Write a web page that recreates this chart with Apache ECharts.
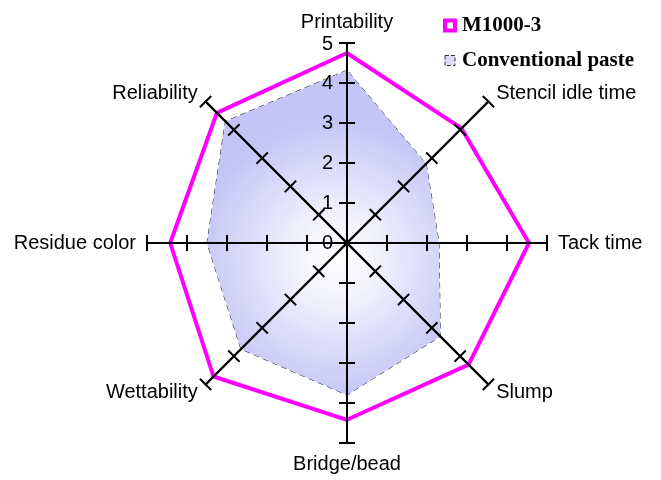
<!DOCTYPE html>
<html>
<head>
<meta charset="utf-8">
<script src="https://cdn.jsdelivr.net/npm/echarts@6/dist/echarts.min.js"></script>
<style>html,body{margin:0;padding:0;background:#fff}#c{width:661px;height:480px}</style>
</head>
<body>
<div id="c"></div>
<script>
// Indicators listed counter-clockwise from the top (ECharts radar order)
var indicators = ['Printability', 'Reliability', 'Residue color', 'Wettability', 'Bridge/bead', 'Slump', 'Tack time', 'Stencil idle time'];
var m1000 = [4.75, 4.6, 4.42, 4.72, 4.42, 4.3, 4.55, 4.05];
var conventional = [4.32, 4.3, 3.5, 3.75, 3.8, 3.3, 2.3, 2.8];
var tickLabels = ['0', '1', '2', '3', '4', '5'];
var maxVal = 5;

var chart = echarts.init(document.getElementById('c'));
var ind = indicators.map(function (n) { return { name: n, max: maxVal, min: 0 }; });
var ind2 = indicators.map(function (n) { return { name: '', max: maxVal, min: 0 }; });

function radarBase(tickLen, showName, inds) {
  return {
    indicator: inds,
    center: [347, 243],
    radius: 200,
    startAngle: 90,
    splitNumber: 5,
    shape: 'polygon',
    z: 5,
    axisName: { show: showName, color: '#000', fontSize: 20, fontFamily: 'Liberation Sans, Arial, sans-serif' },
    nameGap: 11,
    axisLine: { show: true, lineStyle: { color: '#000', width: 2 } },
    axisTick: { show: true, length: tickLen, lineStyle: { color: '#000', width: 2 } },
    axisLabel: { show: false },
    splitLine: { show: false },
    splitArea: { show: false }
  };
}

chart.setOption({
  animation: false,
  backgroundColor: '#fff',
  legend: {
    orient: 'vertical',
    left: 438,
    top: 10,
    itemWidth: 10,
    itemHeight: 10,
    itemGap: 14,
    z: 10,
    textStyle: { fontFamily: 'Liberation Serif, Times New Roman, serif', fontWeight: 'bold', fontSize: 21, color: '#000', padding: [0, 0, 0, 2] },
    data: [
      { name: 'M1000-3', icon: 'rect', itemStyle: { color: '#fff', borderColor: '#ff00ff', borderWidth: 4 } },
      { name: 'Conventional paste', icon: 'rect', itemStyle: { color: '#dcdcfa', borderColor: '#333', borderWidth: 1, borderType: 'dashed' } }
    ]
  },
  radar: [radarBase(8, true, ind), radarBase(-8, false, ind2)],
  grid: { left: 347, top: 44, width: 1, height: 199 },
  xAxis: { type: 'value', show: false },
  yAxis: {
    type: 'value', min: 0, max: maxVal, interval: 1, z: 10,
    axisLine: { show: false }, axisTick: { show: false }, splitLine: { show: false },
    axisLabel: {
      margin: 14, fontSize: 20, color: '#000', fontFamily: 'Liberation Sans, Arial, sans-serif',
      formatter: function (v) { return tickLabels[Math.round(v)]; }
    }
  },
  series: [{
    type: 'radar',
    radarIndex: 0,
    symbol: 'none',
    z: 2,
    data: [
      {
        name: 'Conventional paste',
        value: conventional,
        lineStyle: { color: '#222', width: 1, type: [6, 4] },
        itemStyle: { color: '#d4d4f8' },
        areaStyle: {
          opacity: 1,
          color: { type: 'radial', x: 0.55, y: 0.58, r: 0.6, colorStops: [
            { offset: 0, color: '#ffffff' }, { offset: 0.3, color: '#f2f2fd' }, { offset: 1, color: '#c4c4f6' }
          ] }
        }
      },
      {
        name: 'M1000-3',
        value: m1000,
        lineStyle: { color: '#ff00ff', width: 4 },
        itemStyle: { color: '#ff00ff' }
      }
    ]
  }]
});
</script>
</body>
</html>
